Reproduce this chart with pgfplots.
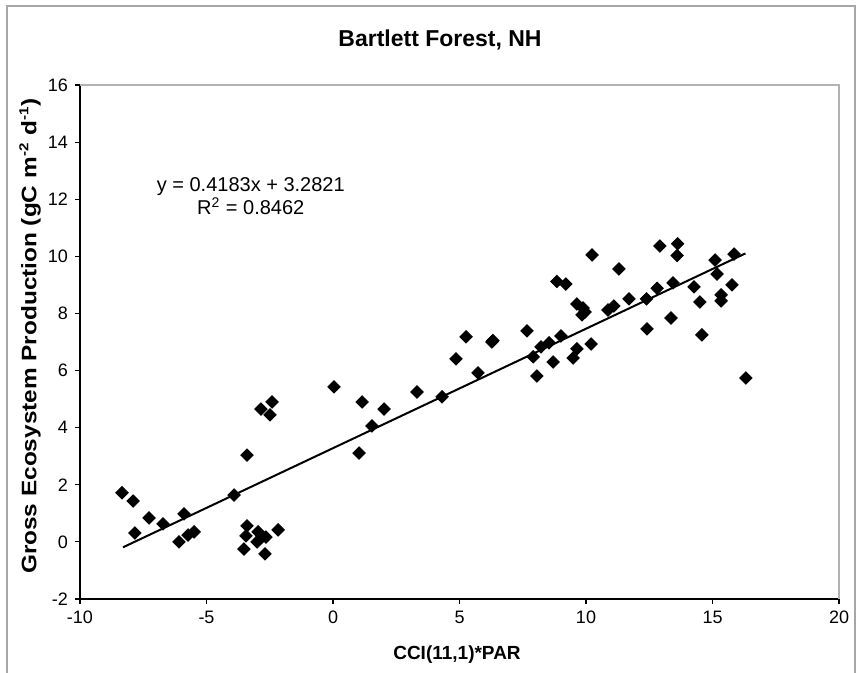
\documentclass[border=0pt]{standalone}
\usepackage{pgfplots}
\pgfplotsset{compat=1.18}
\usepackage{fontspec}
\setmainfont{Liberation Sans}
\pgfplotstableread{
x y
-8.34 1.72
-7.90 1.43
-7.83 0.31
-7.27 0.84
-6.72 0.63
-5.89 0.98
-6.09 0.00
-5.73 0.24
-5.49 0.35
-3.91 1.64
-3.40 3.04
-2.85 4.65
-2.41 4.90
-2.49 4.45
0.04 5.43
-3.40 0.56
-3.44 0.21
-3.52 -0.25
-2.96 0.35
-3.00 0.00
-2.81 0.17
-2.65 0.17
-2.69 -0.42
-2.17 0.42
1.15 4.90
2.02 4.65
1.54 4.06
1.03 3.11
3.32 5.25
4.31 5.08
4.86 6.41
5.26 7.18
5.73 5.92
6.28 7.00
6.32 7.05
7.67 7.39
7.91 6.48
8.06 5.81
8.22 6.83
8.54 6.97
8.70 6.30
9.01 7.21
9.49 6.44
9.64 6.76
8.85 9.12
9.20 9.03
9.64 8.33
9.88 8.19
9.84 7.95
9.96 8.05
10.20 6.93
10.24 10.05
11.30 9.56
10.87 8.12
11.10 8.26
11.70 8.51
12.39 8.51
12.81 8.88
13.44 9.07
12.92 10.36
13.62 10.44
13.60 10.03
13.36 7.84
12.41 7.46
14.27 8.93
14.50 8.40
14.58 7.25
15.10 9.87
15.18 9.38
15.34 8.65
15.34 8.44
15.77 9.00
15.85 10.08
16.32 5.74
}\gepdata
\pgfplotstableread{
x y
-8.3 -0.1898
16.3 10.1004
}\trend
\begin{document}
\begin{tikzpicture}
\useasboundingbox (0,0) rectangle (430.5pt,336.5pt);
\draw[gray!70, line width=0.8pt] (3.5pt,-2pt) rectangle (427.5pt,333.5pt);
\begin{axis}[
  at={(40pt,37pt)}, anchor=south west,
  scale only axis, width=379.5pt, height=257pt,
  xmin=-10, xmax=20, ymin=-2, ymax=16,
  xtick={-10,-5,...,20}, ytick={-2,0,...,16},
  axis x line*=bottom, axis y line*=left,
  axis line style={black, line width=0.6pt},
  tick align=outside, major tick length=2.5pt,
  tick style={black, line width=0.6pt},
  ticklabel style={font=\fontsize{9}{10}\selectfont},
  /pgf/number format/assume math mode=true,
  clip=false,
]
\draw[gray!60, line width=0.6pt] (rel axis cs:0,1) -- (rel axis cs:1,1) -- (rel axis cs:1,0);
\addplot[only marks, mark=square*, mark size=2.2pt, mark options={rotate=45, fill=black, draw=black}] table[x=x,y=y] {\gepdata};
\addplot[black, line width=1pt, no marks] table[x=x,y=y] {\trend};
\node[align=center, font=\fontsize{10}{11.5}\selectfont] at (axis cs:-3.25,12.1) {y = 0.4183x + 3.2821\\R\textsuperscript{2} = 0.8462};
\end{axis}
\node[font=\bfseries\fontsize{11.5}{13}\selectfont] at (220pt,316.5pt) {Bartlett Forest, NH};
\node[font=\bfseries\fontsize{9.5}{11}\selectfont] at (228.5pt,9pt) {CCI(11,1)*PAR};
\node[font=\bfseries\fontsize{10.5}{12}\selectfont, rotate=90] at (15pt,168.5pt) {\scalebox{1.16}[1]{Gross Ecosystem Production (gC m\textsuperscript{\fontsize{6.5}{7}\selectfont -2} d\textsuperscript{\fontsize{6.5}{7}\selectfont -1})}};
\end{tikzpicture}
\end{document}
